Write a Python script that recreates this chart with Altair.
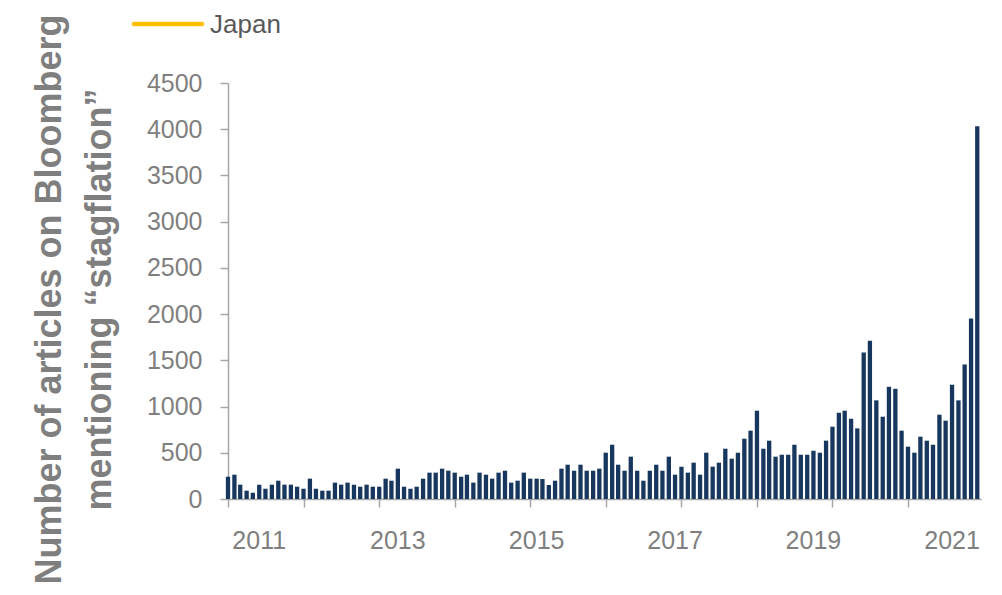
import altair as alt
import pandas as pd

# Monthly article counts, Jan 2011 - Dec 2020
months = [f"{2011 + i // 12}-{i % 12 + 1:02d}-01T00:00:00" for i in range(120)]
articles = [
    241, 263, 155, 90, 68, 155, 111, 155, 198, 155, 155, 133,
    111, 220, 111, 90, 90, 177, 155, 177, 155, 133, 155, 133,
    133, 220, 198, 328, 133, 111, 133, 220, 285, 285, 328, 306,
    285, 241, 263, 177, 285, 263, 220, 285, 306, 177, 198, 285,
    220, 220, 216, 151, 198, 328, 371, 306, 371, 306, 306, 328,
    501, 587, 371, 306, 458, 306, 198, 306, 371, 306, 458, 263,
    349, 285, 393, 263, 501, 350, 393, 544, 436, 501, 652, 739,
    955, 544, 631, 458, 479, 479, 587, 479, 479, 522, 501, 631,
    782, 933, 955, 868, 764, 1586, 1711, 1067, 890, 1214, 1192, 739,
    566, 501, 674, 631, 587, 912, 847, 1236, 1067, 1456, 1953, 4032,
]

# x-axis year labels and where they sit
year_labels = ["2011", "2013", "2015", "2017", "2019", "2021"]
year_label_dates = ["2011-06-01T00:00:00", "2013-04-01T00:00:00", "2015-02-01T00:00:00",
                    "2016-12-01T00:00:00", "2018-10-01T00:00:00", "2020-08-01T00:00:00"]

legend_labels = ["Japan"]
y_ticks = [0, 500, 1000, 1500, 2000, 2500, 3000, 3500, 4000, 4500]

FONT = "Liberation Sans"
GREY = "#7F7F7F"
AXIS_GREY = "#A6A6A6"

df = pd.DataFrame({"date": months, "value": articles})
lab_df = pd.DataFrame({"date": year_label_dates, "label": year_labels})
leg_df = pd.DataFrame({"series": legend_labels})

x_scale = alt.Scale(domain=[alt.DateTime(year=2011, month=1, date=1),
                            alt.DateTime(year=2020, month=12, date=19)],
                    nice=False, padding=0)

bars = alt.Chart(df).mark_bar(width=4.3, color="#17375E").encode(
    x=alt.X("date:T", scale=x_scale,
            axis=alt.Axis(title=None, labels=False, grid=False,
                          tickCount=alt.TimeIntervalStep(interval="year", step=1),
                          tickSize=8, tickColor=AXIS_GREY, tickWidth=1.5,
                          domainColor=AXIS_GREY, domainWidth=1.5)),
    y=alt.Y("value:Q", scale=alt.Scale(domain=[0, 4500], nice=False),
            axis=alt.Axis(values=y_ticks, format="d", grid=False, tickSize=8,
                          tickColor=AXIS_GREY, tickWidth=1.5,
                          domainColor=AXIS_GREY, domainWidth=1.5,
                          labelFont=FONT, labelFontSize=25, labelColor=GREY,
                          labelPadding=18,
                          title=["Number of articles on Bloomberg",
                                 "mentioning \u201cstagflation\u201d"],
                          titleFont=FONT, titleFontSize=36, titleFontWeight="bold",
                          titleColor=GREY, titleAngle=270, titleAlign="center",
                          titleBaseline="alphabetic", titleX=-168, titleY=216,
                          titleLineHeight=50)),
)

year_text = alt.Chart(lab_df).mark_text(
    font=FONT, fontSize=25, color=GREY, align="center", baseline="alphabetic"
).encode(
    x=alt.X("date:T", scale=x_scale),
    y=alt.value(466),
    text="label:N",
)

leg_line = alt.Chart(leg_df).mark_rule(
    color="#FFC000", strokeWidth=4.5, strokeCap="round"
).encode(x=alt.value(-94), x2=alt.value(-26), y=alt.value(-59))

leg_text = alt.Chart(leg_df).mark_text(
    font=FONT, fontSize=26, color="#595959", align="left", baseline="alphabetic"
).encode(x=alt.value(-18), y=alt.value(-50), text="series:N")

chart = alt.layer(bars, year_text, leg_line, leg_text).properties(
    width=753, height=416,
    autosize=alt.AutoSizeParams(type="none"),
    padding={"left": 220, "top": 75, "right": 10, "bottom": 88},
    background="white",
).configure_view(stroke=None)

chart.save("out.html", embed_options={"renderer": "svg", "actions": False})
